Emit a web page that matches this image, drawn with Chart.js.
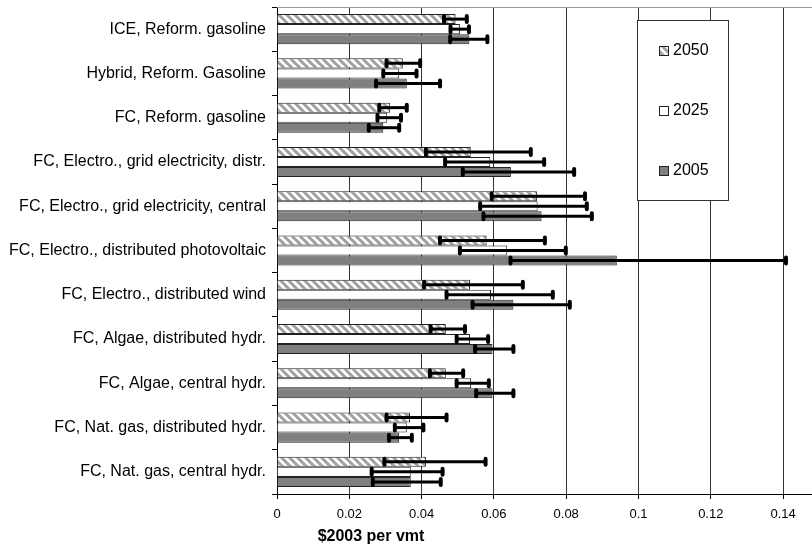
<!DOCTYPE html>
<html>
<head>
<meta charset="utf-8">
<script src="https://cdn.jsdelivr.net/npm/chart.js@4"></script>
<style>
  body { margin: 0; background: #fff; }
  #wrap { width: 812px; height: 550px; }
</style>
</head>
<body>
<div id="wrap"><canvas id="myChart"></canvas></div>
<script>
let categories = ['ICE, Reform. gasoline', 'Hybrid, Reform. Gasoline', 'FC, Reform. gasoline',
  'FC, Electro., grid electricity, distr.', 'FC, Electro., grid electricity, central',
  'FC, Electro., distributed photovoltaic', 'FC, Electro., distributed wind',
  'FC, Algae, distributed hydr.', 'FC, Algae, central hydr.',
  'FC, Nat. gas, distributed hydr.', 'FC, Nat. gas, central hydr.'];
let seriesNames = ['2050', '2025', '2005'];

let cost2050 = [0.0494, 0.0348, 0.0313, 0.0536, 0.0719, 0.0580, 0.0534, 0.0467, 0.0467, 0.0368, 0.0412];
let low2050  = [0.0462, 0.0303, 0.0283, 0.0412, 0.0594, 0.0451, 0.0407, 0.0425, 0.0423, 0.0303, 0.0297];
let high2050 = [0.0525, 0.0396, 0.0359, 0.0702, 0.0852, 0.0741, 0.0680, 0.0520, 0.0515, 0.0469, 0.0577];

let cost2025 = [0.0506, 0.0338, 0.0305, 0.0590, 0.0721, 0.0637, 0.0592, 0.0534, 0.0537, 0.0359, 0.0370];
let low2025  = [0.0480, 0.0294, 0.0278, 0.0465, 0.0562, 0.0506, 0.0469, 0.0497, 0.0497, 0.0326, 0.0262];
let high2025 = [0.0531, 0.0386, 0.0343, 0.0739, 0.0857, 0.0799, 0.0763, 0.0584, 0.0586, 0.0405, 0.0458];

let cost2005 = [0.0532, 0.0359, 0.0294, 0.0647, 0.0732, 0.0940, 0.0654, 0.0596, 0.0596, 0.0338, 0.0370];
let low2005  = [0.0479, 0.0274, 0.0254, 0.0514, 0.0571, 0.0646, 0.0541, 0.0548, 0.0551, 0.0310, 0.0265];
let high2005 = [0.0582, 0.0451, 0.0338, 0.0822, 0.0871, 0.1408, 0.0810, 0.0654, 0.0654, 0.0373, 0.0453];

let xTicks = [0, 0.02, 0.04, 0.06, 0.08, 0.1, 0.12, 0.14];

// diagonal hatch for 2050
function makeHatch() {
  let c = document.createElement('canvas');
  c.width = 8; c.height = 8;
  let g = c.getContext('2d');
  g.fillStyle = '#fff';
  g.fillRect(0, 0, 8, 8);
  g.strokeStyle = '#a0a0a0';
  g.lineWidth = 3;
  g.beginPath();
  g.moveTo(-2, -2); g.lineTo(10, 10);
  g.moveTo(-10, -2); g.lineTo(2, 10);
  g.moveTo(6, -2); g.lineTo(18, 10);
  g.stroke();
  return g.createPattern(c, 'repeat');
}
let hatch = makeHatch();

const errorBars = {
  id: 'errorBars',
  afterDatasetsDraw(chart) {
    let ctx = chart.ctx;
    let xs = chart.scales.x;
    chart.data.datasets.forEach((ds, i) => {
      let meta = chart.getDatasetMeta(i);
      meta.data.forEach((bar, j) => {
        let x1 = xs.getPixelForValue(ds.errLow[j]);
        let x2 = xs.getPixelForValue(ds.errHigh[j]);
        let y = bar.y;
        ctx.save();
        ctx.strokeStyle = '#000';
        ctx.lineWidth = 3;
        ctx.beginPath();
        ctx.moveTo(x1, y); ctx.lineTo(x2, y);
        ctx.stroke();
        ctx.lineWidth = 4;
        ctx.lineCap = 'round';
        ctx.beginPath();
        ctx.moveTo(x1, y - 3); ctx.lineTo(x1, y + 3);
        ctx.moveTo(x2, y - 3); ctx.lineTo(x2, y + 3);
        ctx.stroke();
        ctx.restore();
      });
    });
  }
};

const extras = {
  id: 'extras',
  afterDraw(chart) {
    let ctx = chart.ctx;
    let a = chart.chartArea;
    ctx.save();
    // top border
    ctx.strokeStyle = '#999';
    ctx.lineWidth = 1;
    ctx.beginPath();
    ctx.moveTo(a.left, a.top + 0.5); ctx.lineTo(a.right, a.top + 0.5);
    ctx.stroke();
    // legend box
    ctx.fillStyle = '#fff';
    ctx.fillRect(637, 20, 91, 180);
    ctx.strokeStyle = '#333';
    ctx.strokeRect(637.5, 20.5, 91, 180);
    ctx.font = '16px "Liberation Sans", Arial, sans-serif';
    ctx.textBaseline = 'middle';
    chart.data.datasets.forEach((ds, i) => {
      let y = 51 + i * 60;
      ctx.fillStyle = ds.backgroundColor;
      ctx.fillRect(659, y - 5, 10, 10);
      ctx.strokeStyle = '#222';
      ctx.strokeRect(659.5, y - 4.5, 9, 9);
      ctx.fillStyle = '#000';
      ctx.fillText(ds.label, 673, y);
    });
    // axis title
    ctx.font = 'bold 16px "Liberation Sans", Arial, sans-serif';
    ctx.textAlign = 'center';
    ctx.fillText('$2003 per vmt', 371, 537);
    ctx.restore();
  }
};

let ctx = document.getElementById('myChart').getContext('2d');
let myChart = new Chart(ctx, {
  type: 'bar',
  data: {
    labels: categories,
    datasets: [
      { label: seriesNames[0], data: cost2050, errLow: low2050, errHigh: high2050, backgroundColor: hatch, borderColor: '#222', borderWidth: 1 },
      { label: seriesNames[1], data: cost2025, errLow: low2025, errHigh: high2025, backgroundColor: '#ffffff', borderColor: '#222', borderWidth: 1 },
      { label: seriesNames[2], data: cost2005, errLow: low2005, errHigh: high2005, backgroundColor: '#808080', borderColor: '#222', borderWidth: 1 }
    ]
  },
  options: {
    indexAxis: 'y',
    responsive: true,
    maintainAspectRatio: false,
    animation: false,
    categoryPercentage: 0.68,
    barPercentage: 1.0,
    layout: { padding: { top: 7, right: 0, left: 0, bottom: 0 } },
    plugins: {
      legend: { display: false },
      tooltip: { enabled: false }
    },
    scales: {
      x: {
        min: 0,
        max: 0.148,
        afterBuildTicks: (scale) => { scale.ticks = xTicks.map(v => ({ value: v })); },
        afterFit: (scale) => { scale.height = 56; scale.paddingLeft = 0; scale.paddingRight = 0; },
        ticks: {
          color: '#000',
          font: { size: 13, family: '"Liberation Sans", Arial, sans-serif' },
          padding: 8,
          maxRotation: 0,
          callback: (v) => String(+Number(v).toFixed(4))
        },
        grid: { color: '#333', tickLength: 5, tickColor: '#000' },
        border: { color: '#000' }
      },
      y: {
        afterFit: (scale) => { scale.width = 277; scale.paddingTop = 0; scale.paddingBottom = 0; },
        ticks: {
          color: '#000',
          font: { size: 16, family: '"Liberation Sans", Arial, sans-serif' },
          padding: 6
        },
        grid: { drawOnChartArea: false, offset: true, tickLength: 5, tickColor: '#000' },
        border: { color: '#000' }
      }
    }
  },
  plugins: [errorBars, extras]
});
</script>
</body>
</html>
